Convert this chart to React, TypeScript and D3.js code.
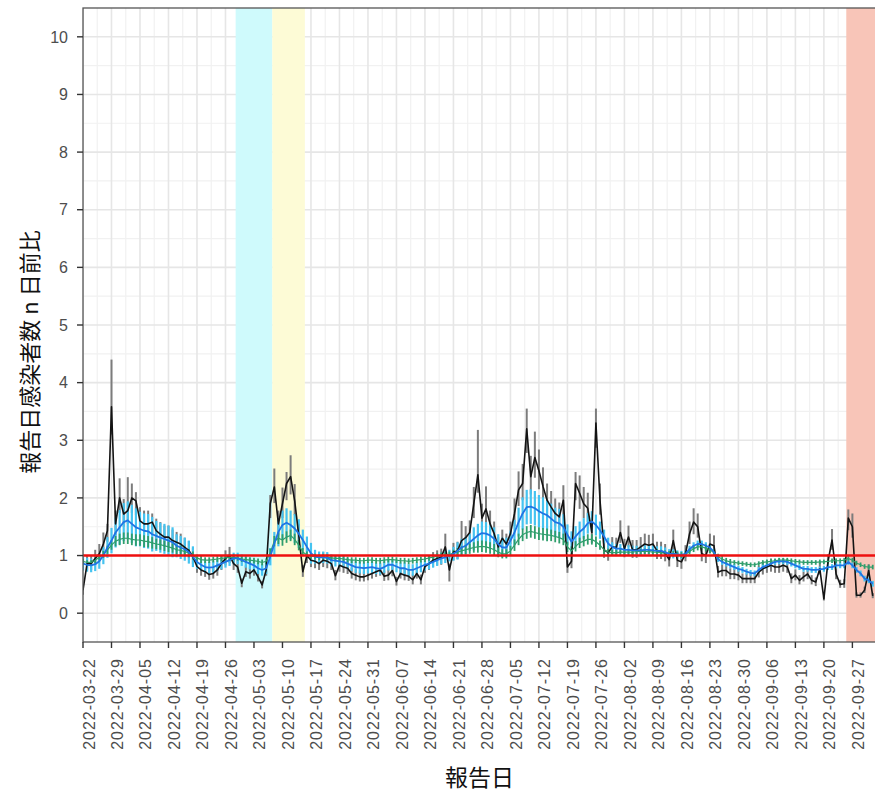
import React from "react";
import * as d3 from "d3";

// ---------- DATA ----------
const START_DATE = "2022-03-22";
const DOMAIN_END = "2022-10-02T19:12";

// daily ratio (black line)
const ratio = [
  0.40,0.86,0.86,0.95,1.03,1.20,1.43,3.58,1.55,2.00,
  1.72,1.78,2.00,1.95,1.60,1.55,1.55,1.58,1.43,1.37,
  1.32,1.32,1.26,1.23,1.20,1.14,1.09,0.98,0.81,0.75,
  0.72,0.67,0.69,0.75,0.86,0.95,1.00,0.86,0.80,0.52,
  0.72,0.69,0.75,0.63,0.49,0.75,1.90,2.19,1.55,1.90,
  2.25,2.37,1.95,1.35,0.72,1.00,0.92,0.90,0.86,0.92,
  0.90,0.86,0.65,0.83,0.80,0.78,0.69,0.66,0.63,0.63,
  0.66,0.69,0.72,0.75,0.64,0.66,0.74,0.55,0.69,0.66,
  0.64,0.58,0.69,0.58,0.81,0.86,0.92,0.95,0.97,1.15,
  0.75,1.06,1.08,1.26,1.31,1.40,1.90,2.40,1.65,1.81,
  1.55,1.38,1.15,1.30,1.20,1.38,1.73,2.14,2.25,3.20,
  2.37,2.70,2.47,2.20,1.96,1.84,1.73,1.67,1.96,0.80,
  0.90,2.25,2.08,1.90,1.82,1.40,3.30,1.96,1.10,1.05,
  1.15,1.14,1.40,1.12,1.32,1.10,1.10,1.15,1.20,1.18,
  1.20,1.08,1.08,1.04,0.93,1.26,0.92,0.89,1.03,1.38,
  1.58,1.50,1.03,1.00,1.20,1.17,0.71,0.74,0.74,0.68,
  0.68,0.66,0.60,0.60,0.60,0.60,0.71,0.77,0.80,0.83,
  0.80,0.80,0.83,0.80,0.60,0.66,0.57,0.63,0.68,0.57,
  0.54,0.77,0.25,0.89,1.27,0.68,0.50,0.51,1.65,1.50,
  0.31,0.31,0.40,0.74,0.30,
];

// upper / lower interval of the daily ratio (grey bars)
const ratioHi = [
  0.50,0.99,0.99,1.10,1.20,1.40,1.55,4.40,1.78,2.34,
  1.98,2.36,2.25,2.10,1.84,1.78,1.78,1.73,1.64,1.58,
  1.52,1.52,1.45,1.41,1.38,1.31,1.25,1.13,0.93,0.86,
  0.83,0.77,0.79,0.86,0.99,1.09,1.15,0.99,0.92,0.60,
  0.83,0.79,0.86,0.72,0.56,0.86,2.05,2.51,1.78,2.18,
  2.45,2.74,2.24,1.55,0.83,1.15,1.06,1.03,0.99,1.06,
  1.03,0.99,0.75,0.95,0.92,0.90,0.79,0.76,0.72,0.72,
  0.76,0.79,0.83,0.86,0.74,0.76,0.85,0.63,0.79,0.76,
  0.74,0.67,0.79,0.67,0.93,0.99,1.06,1.09,1.12,1.38,
  0.86,1.22,1.24,1.60,1.51,1.61,2.19,3.18,1.90,2.20,
  1.78,1.59,1.32,1.45,1.38,1.59,1.99,2.46,2.59,3.55,
  2.73,3.15,2.84,2.53,2.25,2.12,1.99,1.92,2.22,0.92,
  1.04,2.45,2.39,2.19,2.09,1.61,3.55,2.25,1.27,1.21,
  1.32,1.31,1.61,1.29,1.52,1.27,1.27,1.32,1.38,1.36,
  1.38,1.24,1.24,1.20,1.07,1.45,1.06,1.02,1.18,1.59,
  1.82,1.73,1.18,1.15,1.38,1.35,0.82,0.85,0.85,0.78,
  0.78,0.76,0.69,0.69,0.69,0.69,0.82,0.89,0.92,0.95,
  0.92,0.92,0.95,0.92,0.69,0.76,0.66,0.72,0.78,0.66,
  0.62,0.89,0.29,1.02,1.46,0.78,0.58,0.59,1.80,1.73,
  0.36,0.36,0.46,0.85,0.35,
];
const ratioLo = [
  0.32,0.75,0.75,0.83,0.90,1.04,1.24,3.10,1.35,1.74,
  1.50,1.55,1.74,1.70,1.39,1.35,1.35,1.37,1.24,1.19,
  1.15,1.15,1.10,1.07,1.04,0.99,0.95,0.85,0.70,0.65,
  0.63,0.58,0.60,0.65,0.75,0.83,0.87,0.75,0.70,0.45,
  0.63,0.60,0.65,0.55,0.43,0.65,1.65,1.91,1.35,1.65,
  1.96,2.06,1.70,1.17,0.63,0.87,0.80,0.78,0.75,0.80,
  0.78,0.75,0.57,0.72,0.70,0.68,0.60,0.57,0.55,0.55,
  0.57,0.60,0.63,0.65,0.56,0.57,0.64,0.48,0.60,0.57,
  0.56,0.50,0.60,0.50,0.70,0.75,0.80,0.83,0.84,1.00,
  0.55,0.92,0.94,1.10,1.14,1.22,1.65,2.09,1.44,1.57,
  1.35,1.20,1.00,1.13,1.04,1.20,1.51,1.86,1.96,2.78,
  2.06,2.35,2.15,1.91,1.71,1.60,1.51,1.45,1.71,0.70,
  0.78,1.96,1.81,1.65,1.58,1.22,2.87,1.71,0.96,0.91,
  1.00,0.99,1.22,0.97,1.15,0.96,0.96,1.00,1.04,1.03,
  1.04,0.94,0.94,0.90,0.81,1.10,0.80,0.77,0.90,1.20,
  1.37,1.31,0.90,0.87,1.04,1.02,0.62,0.64,0.64,0.59,
  0.59,0.57,0.52,0.52,0.52,0.52,0.62,0.67,0.70,0.72,
  0.70,0.70,0.72,0.70,0.52,0.57,0.50,0.55,0.59,0.50,
  0.47,0.67,0.22,0.77,1.10,0.59,0.44,0.44,1.44,1.31,
  0.27,0.27,0.35,0.64,0.26,
];

// smoothed ratio (blue line) and its half interval (light-blue bars)
const smooth = [
  0.86,0.84,0.83,0.85,0.90,1.00,1.14,1.26,1.40,1.49,
  1.58,1.61,1.55,1.49,1.46,1.43,1.42,1.37,1.34,1.31,
  1.29,1.26,1.23,1.17,1.14,1.11,1.06,0.98,0.89,0.84,
  0.80,0.79,0.80,0.83,0.86,0.89,0.92,0.95,0.95,0.92,
  0.89,0.86,0.83,0.78,0.75,0.78,0.98,1.21,1.41,1.53,
  1.57,1.53,1.47,1.38,1.27,1.15,1.04,0.98,0.97,0.97,
  0.96,0.92,0.91,0.90,0.89,0.86,0.83,0.80,0.79,0.78,
  0.79,0.80,0.78,0.77,0.80,0.84,0.84,0.81,0.78,0.78,
  0.75,0.75,0.78,0.81,0.84,0.86,0.89,0.92,0.95,0.97,
  1.00,1.03,1.08,1.14,1.17,1.23,1.29,1.35,1.39,1.38,
  1.35,1.29,1.20,1.14,1.14,1.26,1.40,1.58,1.73,1.84,
  1.85,1.82,1.77,1.73,1.70,1.64,1.58,1.56,1.50,1.36,
  1.24,1.33,1.41,1.47,1.56,1.59,1.53,1.44,1.33,1.21,
  1.15,1.12,1.12,1.10,1.10,1.09,1.09,1.09,1.10,1.10,
  1.09,1.08,1.08,1.06,1.03,1.03,1.02,1.01,1.03,1.11,
  1.17,1.20,1.20,1.17,1.14,1.06,0.94,0.89,0.86,0.83,
  0.80,0.77,0.75,0.72,0.70,0.69,0.75,0.80,0.83,0.86,
  0.89,0.90,0.90,0.89,0.86,0.83,0.80,0.77,0.77,0.75,
  0.75,0.76,0.77,0.80,0.80,0.83,0.83,0.83,0.89,0.83,
  0.75,0.69,0.60,0.57,0.51,
];
const smoothErr = [
  0.12,0.12,0.12,0.12,0.13,0.15,0.18,0.22,0.26,0.30,
  0.33,0.33,0.33,0.33,0.30,0.30,0.30,0.30,0.26,0.26,
  0.26,0.26,0.26,0.20,0.20,0.20,0.20,0.18,0.12,0.10,
  0.10,0.10,0.10,0.10,0.10,0.10,0.10,0.10,0.10,0.10,
  0.10,0.10,0.10,0.10,0.10,0.10,0.15,0.20,0.25,0.25,
  0.25,0.25,0.25,0.25,0.18,0.18,0.18,0.12,0.10,0.10,
  0.10,0.10,0.10,0.10,0.10,0.10,0.10,0.10,0.10,0.10,
  0.10,0.10,0.10,0.10,0.10,0.10,0.10,0.10,0.10,0.10,
  0.10,0.10,0.10,0.10,0.10,0.10,0.10,0.10,0.10,0.10,
  0.10,0.12,0.15,0.15,0.15,0.15,0.20,0.20,0.20,0.20,
  0.20,0.20,0.17,0.17,0.17,0.17,0.22,0.25,0.28,0.30,
  0.30,0.30,0.28,0.28,0.26,0.26,0.25,0.25,0.22,0.18,
  0.18,0.18,0.18,0.18,0.18,0.18,0.18,0.15,0.12,0.10,
  0.08,0.08,0.08,0.08,0.08,0.08,0.08,0.08,0.08,0.08,
  0.08,0.08,0.08,0.08,0.08,0.08,0.07,0.07,0.06,0.06,
  0.06,0.06,0.06,0.06,0.06,0.06,0.05,0.05,0.05,0.05,
  0.05,0.05,0.05,0.05,0.05,0.05,0.05,0.05,0.05,0.05,
  0.05,0.05,0.05,0.05,0.05,0.05,0.05,0.05,0.05,0.05,
  0.05,0.05,0.05,0.05,0.05,0.05,0.05,0.05,0.05,0.05,
  0.05,0.05,0.05,0.05,0.05,
];

// second estimate (green) and its half interval
const green = [
  0.90,0.88,0.88,0.92,0.97,1.02,1.10,1.18,1.25,1.28,
  1.30,1.30,1.28,1.27,1.27,1.25,1.24,1.22,1.20,1.19,
  1.17,1.15,1.13,1.10,1.09,1.07,1.04,1.00,0.96,0.93,
  0.92,0.92,0.93,0.94,0.95,0.96,0.97,0.97,0.96,0.94,
  0.93,0.92,0.91,0.90,0.88,0.90,1.05,1.25,1.30,1.27,
  1.32,1.35,1.28,1.18,1.06,1.01,0.99,0.98,0.97,0.98,
  0.97,0.96,0.95,0.95,0.94,0.93,0.92,0.92,0.91,0.91,
  0.92,0.92,0.91,0.91,0.92,0.93,0.93,0.92,0.91,0.91,
  0.90,0.91,0.92,0.93,0.94,0.96,0.97,0.99,1.00,1.01,
  1.02,1.04,1.06,1.08,1.10,1.12,1.14,1.15,1.16,1.15,
  1.13,1.10,1.06,1.03,1.03,1.08,1.18,1.28,1.36,1.40,
  1.42,1.40,1.38,1.37,1.36,1.35,1.33,1.31,1.28,1.15,
  1.08,1.16,1.22,1.25,1.28,1.28,1.24,1.18,1.10,1.06,
  1.05,1.05,1.06,1.06,1.06,1.06,1.07,1.07,1.07,1.07,
  1.06,1.06,1.05,1.04,1.03,1.03,1.02,1.01,1.02,1.07,
  1.12,1.15,1.15,1.13,1.10,1.05,0.98,0.94,0.91,0.89,
  0.88,0.87,0.86,0.85,0.84,0.84,0.86,0.88,0.89,0.90,
  0.91,0.92,0.92,0.92,0.91,0.90,0.89,0.88,0.88,0.88,
  0.88,0.89,0.89,0.90,0.91,0.91,0.91,0.92,0.95,0.92,
  0.87,0.84,0.81,0.80,0.80,
];
const greenErr = [
  0.04,0.04,0.04,0.05,0.05,0.06,0.07,0.08,0.09,0.10,
  0.10,0.10,0.10,0.10,0.10,0.10,0.10,0.10,0.09,0.09,
  0.09,0.09,0.08,0.08,0.08,0.08,0.07,0.07,0.06,0.06,
  0.05,0.05,0.05,0.05,0.05,0.05,0.05,0.05,0.05,0.05,
  0.05,0.05,0.05,0.05,0.05,0.05,0.07,0.09,0.10,0.10,
  0.10,0.10,0.10,0.09,0.07,0.06,0.05,0.05,0.05,0.05,
  0.05,0.05,0.05,0.05,0.05,0.05,0.05,0.05,0.05,0.05,
  0.05,0.05,0.05,0.05,0.05,0.05,0.05,0.05,0.05,0.05,
  0.05,0.05,0.05,0.05,0.05,0.05,0.05,0.05,0.05,0.05,
  0.05,0.06,0.07,0.08,0.08,0.09,0.09,0.10,0.10,0.10,
  0.10,0.10,0.09,0.08,0.08,0.09,0.10,0.10,0.11,0.11,
  0.11,0.11,0.11,0.11,0.11,0.10,0.10,0.10,0.10,0.09,
  0.08,0.09,0.09,0.09,0.09,0.09,0.09,0.08,0.07,0.06,
  0.05,0.05,0.05,0.05,0.05,0.05,0.05,0.05,0.05,0.05,
  0.05,0.05,0.05,0.05,0.05,0.05,0.05,0.05,0.05,0.05,
  0.06,0.06,0.06,0.06,0.06,0.06,0.05,0.05,0.05,0.05,
  0.04,0.04,0.04,0.04,0.04,0.04,0.04,0.04,0.04,0.04,
  0.04,0.04,0.04,0.04,0.04,0.04,0.04,0.04,0.04,0.04,
  0.04,0.04,0.04,0.04,0.04,0.04,0.04,0.04,0.04,0.04,
  0.04,0.04,0.04,0.04,0.04,
];

const xTickLabels = [
  "2022-03-22","2022-03-29","2022-04-05","2022-04-12","2022-04-19","2022-04-26",
  "2022-05-03","2022-05-10","2022-05-17","2022-05-24","2022-05-31","2022-06-07",
  "2022-06-14","2022-06-21","2022-06-28","2022-07-05","2022-07-12","2022-07-19",
  "2022-07-26","2022-08-02","2022-08-09","2022-08-16","2022-08-23","2022-08-30",
  "2022-09-06","2022-09-13","2022-09-20","2022-09-27",
];
const yTickValues = [0, 1, 2, 3, 4, 5, 6, 7, 8, 9, 10];
const yMinorValues = [0.5, 1.5, 2.5, 3.5, 4.5, 5.5, 6.5, 7.5, 8.5, 9.5];

const shadeFrom = ["2022-04-28T12:00", "2022-05-07T12:00", "2022-09-25T12:00"];
const shadeTo = ["2022-05-07T12:00", "2022-05-15T12:00", "2022-10-05T00:00"];
const shadeFill = ["#cffafc", "#fdfbd6", "#f8c5b8"];

const REF_VALUE = 1;
const X_TITLE = "報告日";
const Y_TITLE = "報告日感染者数 n 日前比";

// ---------- LAYOUT ----------
const W = 875;
const H = 795;
const PL = 83;
const PR = 876;
const PT = 8;
const PB = 642;

const parseDay = d3.timeParse("%Y-%m-%d");
const parseTime = d3.timeParse("%Y-%m-%dT%H:%M");

export default function App() {
  const start = parseDay(START_DATE) as Date;
  const days = ratio.map((_, i) => d3.timeDay.offset(start, i));
  const x = d3
    .scaleTime()
    .domain([start, parseTime(DOMAIN_END) as Date])
    .range([PL, PR]);
  const y = d3.scaleLinear().domain([-0.5, 10.5]).range([PB, PT]);

  const ticks = xTickLabels.map((s) => parseDay(s) as Date);
  const minorTicks = ticks.map((t) => new Date(t.getTime() + 3.5 * 864e5));

  const line = d3
    .line<number>()
    .x((_, i) => x(days[i]))
    .y((v) => y(v));

  const numFont = "'Liberation Sans', Arial, sans-serif";
  const cjkFont = "'Noto Sans CJK JP', 'Noto Sans', sans-serif";

  return (
    <svg
      width={W}
      height={H}
      style={{ position: "absolute", left: 0, top: 0, display: "block", background: "#fff" }}
    >
      <defs>
        <clipPath id="panel">
          <rect x={PL} y={PT} width={PR - PL} height={PB - PT} />
        </clipPath>
      </defs>
      <rect x={0} y={0} width={W} height={H} fill="#fff" />
      <g clipPath="url(#panel)">
        <rect x={PL} y={PT} width={PR - PL} height={PB - PT} fill="#fff" />
        {/* minor grid */}
        {yMinorValues.map((v) => (
          <line key={"ym" + v} x1={PL} x2={PR} y1={y(v)} y2={y(v)} stroke="#f1f1f1" strokeWidth={1.2} />
        ))}
        {minorTicks.map((t, i) => (
          <line key={"xm" + i} x1={x(t)} x2={x(t)} y1={PT} y2={PB} stroke="#f1f1f1" strokeWidth={1.2} />
        ))}
        {/* major grid */}
        {yTickValues.map((v) => (
          <line key={"yg" + v} x1={PL} x2={PR} y1={y(v)} y2={y(v)} stroke="#e6e6e6" strokeWidth={1.6} />
        ))}
        {ticks.map((t, i) => (
          <line key={"xg" + i} x1={x(t)} x2={x(t)} y1={PT} y2={PB} stroke="#e6e6e6" strokeWidth={1.6} />
        ))}
        {/* shaded periods */}
        {shadeFrom.map((s, i) => {
          const x0 = x(parseTime(s) as Date);
          const x1 = x(parseTime(shadeTo[i]) as Date);
          return <rect key={"sh" + i} x={x0} y={PT} width={x1 - x0} height={PB - PT} fill={shadeFill[i]} />;
        })}
        {/* grey intervals of daily ratio */}
        {ratio.map((_, i) => (
          <line key={"gb" + i} x1={x(days[i])} x2={x(days[i])} y1={y(ratioLo[i])} y2={y(ratioHi[i])}
            stroke="#7c7c7c" strokeWidth={2} />
        ))}
        {/* light-blue intervals */}
        {smooth.map((v, i) => (
          <line key={"bb" + i} x1={x(days[i])} x2={x(days[i])} y1={y(v - smoothErr[i])} y2={y(v + smoothErr[i])}
            stroke="#45c3f0" strokeWidth={2.2} />
        ))}
        {/* green intervals */}
        {green.map((v, i) => (
          <line key={"gr" + i} x1={x(days[i])} x2={x(days[i])} y1={y(v - greenErr[i])} y2={y(v + greenErr[i])}
            stroke="#2f9e6c" strokeWidth={1.8} />
        ))}
        {/* black daily ratio */}
        <path d={line(ratio) || ""} fill="none" stroke="#141414" strokeWidth={1.6} strokeLinejoin="round" />
        {/* green line */}
        <path d={line(green) || ""} fill="none" stroke="#2f9e6c" strokeWidth={1.2} />
        {/* blue smooth line */}
        <path d={line(smooth) || ""} fill="none" stroke="#1f74e4" strokeWidth={1.8} strokeLinejoin="round" />
        {/* reference line */}
        <line x1={PL} x2={PR} y1={y(REF_VALUE)} y2={y(REF_VALUE)} stroke="#ee1010" strokeWidth={2.6} />
      </g>
      {/* panel border */}
      <rect x={PL} y={PT} width={PR - PL} height={PB - PT} fill="none" stroke="#555" strokeWidth={1.3} />
      {/* y axis */}
      {yTickValues.map((v) => (
        <g key={"yt" + v}>
          <line x1={PL - 6} x2={PL} y1={y(v)} y2={y(v)} stroke="#333" strokeWidth={1.4} />
          <text x={PL - 15} y={y(v)} dy="0.36em" textAnchor="end" fontSize={16} fill="#4d4d4d" fontFamily={numFont}>
            {v}
          </text>
        </g>
      ))}
      {/* x axis */}
      {ticks.map((t, i) => (
        <g key={"xt" + i}>
          <line x1={x(t)} x2={x(t)} y1={PB} y2={PB + 6} stroke="#333" strokeWidth={1.4} />
          <text
            transform={`translate(${x(t) + 11.5},${PB + 16}) rotate(-90)`}
            textAnchor="end"
            fontSize={16}
            letterSpacing={1}
            fill="#4d4d4d"
            fontFamily={numFont}
          >
            {xTickLabels[i]}
          </text>
        </g>
      ))}
      <text x={(PL + PR) / 2} y={786} textAnchor="middle" fontSize={23} fill="#111" fontFamily={cjkFont}>
        {X_TITLE}
      </text>
      <text
        transform={`translate(38,352) rotate(-90)`}
        textAnchor="middle"
        fontSize={22}
        fill="#111"
        fontFamily={cjkFont}
      >
        {Y_TITLE}
      </text>
    </svg>
  );
}
